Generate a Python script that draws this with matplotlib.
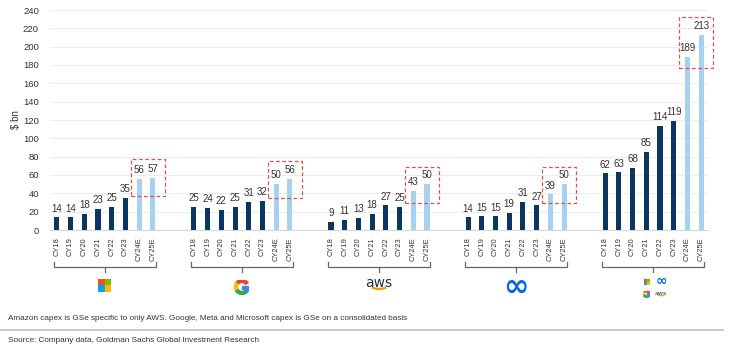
import matplotlib
matplotlib.use("Agg")
import matplotlib.pyplot as plt
from matplotlib.patches import Rectangle, Wedge, Arc
import numpy as np

years = ["CY18", "CY19", "CY20", "CY21", "CY22", "CY23", "CY24E", "CY25E"]
companies = ["Microsoft", "Google", "AWS", "Meta", "Total"]
msft = [14, 14, 18, 23, 25, 35, 56, 57]
goog = [25, 24, 22, 25, 31, 32, 50, 56]
aws = [9, 11, 13, 18, 27, 25, 43, 50]
meta = [14, 15, 15, 19, 31, 27, 39, 50]
total = [62, 63, 68, 85, 114, 119, 189, 213]
series = [msft, goog, aws, meta, total]
box_ranges = [(37, 77.5), (35, 75), (29, 68.5), (29, 68.5), (177, 232)]
yticks = list(range(0, 241, 20))

DARK = "#0B3661"
LIGHT = "#A8D0EF"

W, H = 750, 357
fig = plt.figure(figsize=(W / 100, H / 100), dpi=100)
plt.rcParams['font.family'] = ['Liberation Sans', 'DejaVu Sans']

ax_l, ax_r, ax_t, ax_b = 50, 708, 10, 230
ax = fig.add_axes([ax_l / W, 1 - ax_b / H, (ax_r - ax_l) / W, (ax_b - ax_t) / H])
xmin, xmax = -0.5, 47.5
ax.set_xlim(xmin, xmax)
ax.set_ylim(0, 240)

def px_x(xd):
    return ax_l + (xd - xmin) / (xmax - xmin) * (ax_r - ax_l)

xt, xl = [], []
for g, vals in enumerate(series):
    pos = [g * 10 + i for i in range(len(vals))]
    cols = [DARK] * 6 + [LIGHT] * 2
    ax.bar(pos, vals, width=0.37, color=cols, zorder=3)
    for p, v in zip(pos, vals):
        ax.text(p, v + 4, f"{v}", ha="center", va="bottom", fontsize=7, color="#333333")
    xt += pos
    xl += years
    # red dashed box
    y0, y1 = box_ranges[g]
    ax.add_patch(Rectangle((pos[6] - 0.6, y0), (pos[7] + 0.9) - (pos[6] - 0.6), y1 - y0,
                           fill=False, ec="#D9534F", ls=(0, (3, 2)), lw=0.9, clip_on=False, zorder=4))
    # bracket
    tr = ax.get_xaxis_transform()
    a, b = pos[0] - 0.2, pos[-1] + 0.2
    c = (pos[0] + pos[-1]) / 2
    ax.plot([a, a, b, b], [-0.145, -0.167, -0.167, -0.145], transform=tr, color="#666666", lw=0.9, clip_on=False)
    ax.plot([c, c], [-0.167, -0.19], transform=tr, color="#666666", lw=0.9, clip_on=False)

ax.set_xticks(xt)
ax.set_xticklabels(xl, rotation=90, fontsize=5.4, color="#333333")
ax.set_yticks(yticks)
ax.tick_params(axis="y", labelsize=6.8, colors="#333333", length=0, pad=8)
ax.tick_params(axis="x", length=0, pad=5)
ax.grid(axis="y", color="#EDEDED", lw=0.8, zorder=0)
for s in ["top", "right", "left"]:
    ax.spines[s].set_visible(False)
ax.spines["bottom"].set_color("#D8D8D8")
ax.set_ylabel("$ bn", fontsize=7, color="#333333", labelpad=1.5)

# ---- logos ----
def logo_ax(cx, cy, w, h):
    a = fig.add_axes([(cx - w / 2) / W, 1 - (cy + h / 2) / H, w / W, h / H])
    a.set_xlim(0, w)
    a.set_ylim(0, h)
    a.axis("off")
    return a

def ms_logo(cx, cy, s):
    a = logo_ax(cx, cy, s, s)
    q = s / 2 - 0.4
    a.add_patch(Rectangle((0, s / 2 + 0.4), q, q, color="#F25022"))
    a.add_patch(Rectangle((s / 2 + 0.4, s / 2 + 0.4), q, q, color="#7FBA00"))
    a.add_patch(Rectangle((0, 0), q, q, color="#00A4EF"))
    a.add_patch(Rectangle((s / 2 + 0.4, 0), q, q, color="#FFB900"))

def g_logo(cx, cy, s):
    a = logo_ax(cx, cy, s, s)
    c = (s / 2, s / 2)
    r = s / 2
    wd = s * 0.2
    a.add_patch(Wedge(c, r, 35, 145, width=wd, color="#EA4335"))
    a.add_patch(Wedge(c, r, 145, 215, width=wd, color="#FBBC05"))
    a.add_patch(Wedge(c, r, 215, 320, width=wd, color="#34A853"))
    a.add_patch(Wedge(c, r, 320, 360, width=wd, color="#4285F4"))
    a.add_patch(Rectangle((s / 2, s / 2 - wd / 2), s / 2, wd, color="#4285F4"))

def aws_logo(cx, cy, w, fs):
    a = logo_ax(cx, cy, w, w * 0.7)
    a.text(w / 2, w * 0.42, "aws", ha="center", va="center", fontsize=fs, color="#232F3E",
           family="DejaVu Sans")
    a.add_patch(Arc((w / 2, w * 0.45), w * 0.9, w * 0.5, theta1=215, theta2=325, color="#FF9900", lw=fs / 6))

def meta_logo(cx, cy, fs):
    fig.text(cx / W, 1 - cy / H, "∞", ha="center", va="center", fontsize=fs, color="#0668E1",
             fontweight="bold", family="DejaVu Sans")

centers = [px_x(g * 10 + 3.5) for g in range(5)]
ms_logo(centers[0], 285, 13)
g_logo(centers[1], 287, 15)
aws_logo(centers[2], 285, 26, 10)
meta_logo(centers[3], 287, 22)
ms_logo(centers[4] - 6.5, 282, 6)
g_logo(centers[4] - 6.5, 294, 7)
meta_logo(centers[4] + 8, 281, 10)
aws_logo(centers[4] + 8, 294, 12, 4.5)

# ---- footnotes ----
fig.text(8 / W, 1 - 318 / H,
         "Amazon capex is GSe specific to only AWS. Google, Meta and Microsoft capex is GSe on a consolidated basis",
         fontsize=5.9, color="#333333", va="center", ha="left")
fig.add_artist(plt.Line2D([0, 723 / W], [1 - 330 / H, 1 - 330 / H], color="#BDBDBD", lw=1.2))
fig.text(8 / W, 1 - 341 / H, "Source: Company data, Goldman Sachs Global Investment Research",
         fontsize=5.9, color="#333333", va="center", ha="left")

fig.savefig("out.png", dpi=100, facecolor="white")
